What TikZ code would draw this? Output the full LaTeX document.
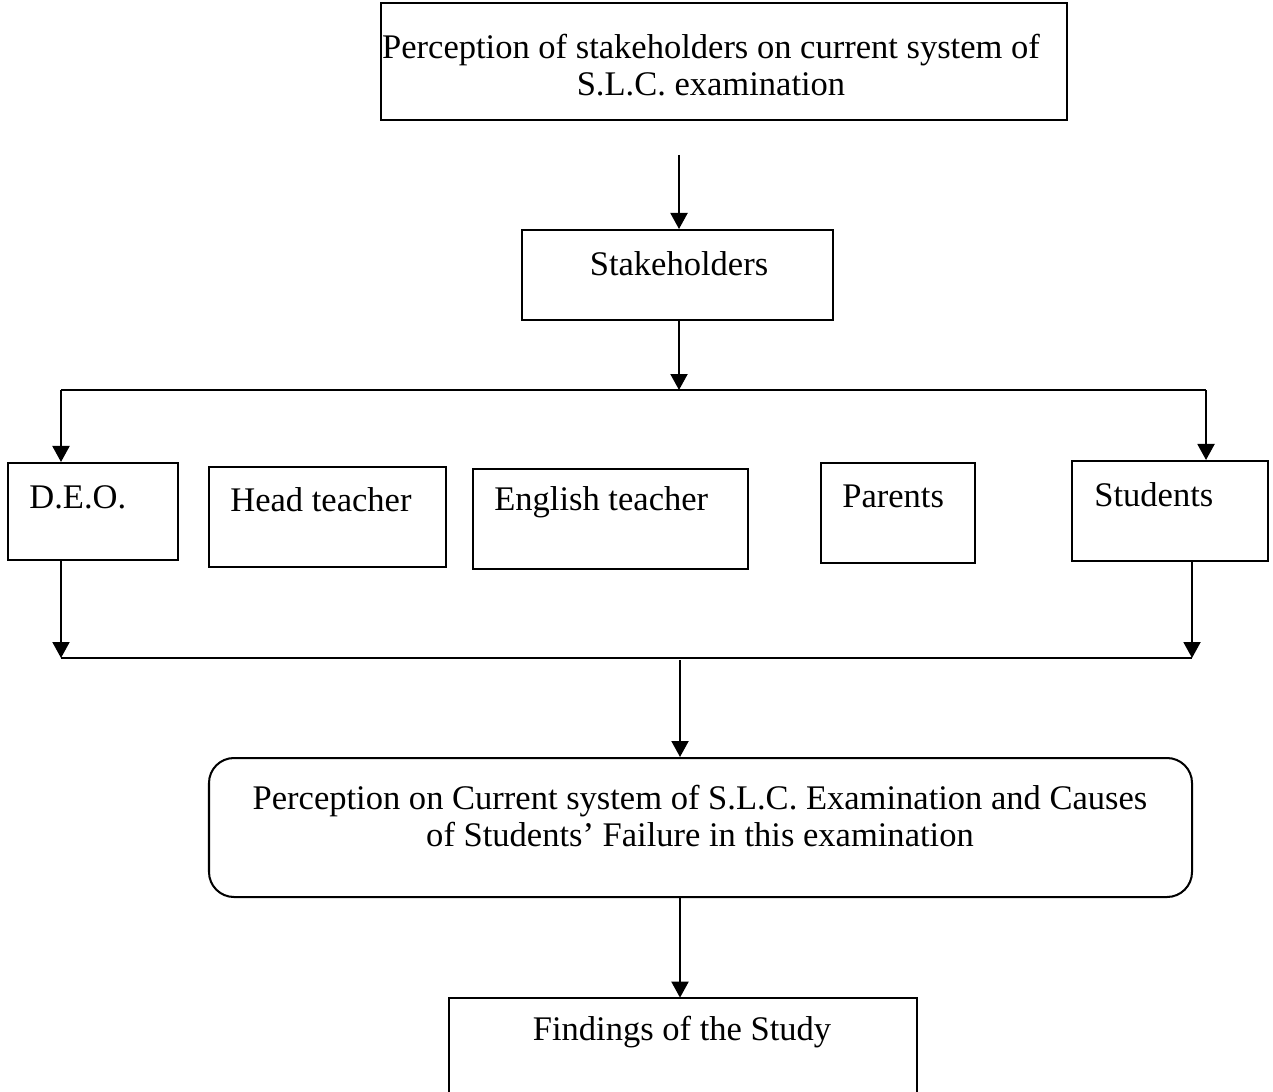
\documentclass[tikz,border=0pt]{standalone}
\usepackage{fontspec}
\setmainfont{Liberation Serif}
\usetikzlibrary{arrows.meta,fit}
\begin{document}
\begin{tikzpicture}[x=0.02cm,y=-0.02cm,
  box/.style={draw,line width=1.15pt,inner sep=0pt,rectangle},
  rbox/.style={draw,line width=1.15pt,inner sep=0pt,rectangle,rounded corners=0.5cm},
  txt/.style={inner sep=0pt,font=\fontsize{19.65}{21.3}\selectfont,align=center},
  conn/.style={line width=1.15pt},
  arr/.style={line width=1.15pt,-{Triangle[length=0.32cm,width=0.34cm]}}]
\useasboundingbox (0,0) rectangle (1273,1091);
% boxes
\node[box,fit={(381,3) (1067,120)}] (top) {};
\node[txt] (topt) at (711,65) {Perception of stakeholders on current system of\\S.L.C. examination};
\node[box,fit={(522,230) (833,320)}] (stk) {};
\node[txt] (stkt) at (679,264) {Stakeholders};
\node[box,fit={(8,463) (178,560)}] (deo) {};
\node[txt,anchor=west] (deot) at (29,497) {D.E.O.};
\node[box,fit={(209,467) (446,567)}] (head) {};
\node[txt,anchor=west] (headt) at (230,500) {Head teacher};
\node[box,fit={(473,469) (748,569)}] (eng) {};
\node[txt,anchor=west] (engt) at (494,502) {English teacher};
\node[box,fit={(821,463) (975,563)}] (par) {};
\node[txt,anchor=west] (part) at (842,496) {Parents};
\node[box,fit={(1072,461) (1268,561)}] (stu) {};
\node[txt,anchor=west] (stut) at (1094,495) {Students};
\node[rbox,fit={(209,758) (1192,897)}] (perc) {};
\node[txt] (perct) at (700,816) {Perception on Current system of S.L.C. Examination and Causes\\of Students’ Failure in this examination};
\node[inner sep=0pt,fit={(449,998) (917,1100)}] (find) {};
\draw[line width=1.15pt] (find.south west) -- (find.north west) -- (find.north east) -- (find.south east);
\node[txt] (findt) at (682,1032) {Findings of the Study};
% connectors
\coordinate (a0) at (679,155);
\draw[arr] (a0) -- (stk.north -| a0);
\coordinate (j1) at (679,390);
\draw[arr] (stk.south -| j1) -- (j1);
\coordinate (l1) at (61,390);
\coordinate (r1) at (1206,390);
\draw[conn] (l1) -- (r1);
\draw[arr] (l1) -- (deo.north -| l1);
\draw[arr] (r1) -- (stu.north -| r1);
\coordinate (l2) at (61,658);
\coordinate (r2) at (1192,658);
\draw[arr] (deo.south -| l2) -- (l2);
\draw[arr] (stu.south -| r2) -- (r2);
\draw[conn] (l2) -- (r2);
\coordinate (m2) at (680,660);
\draw[arr] (m2) -- (perc.north -| m2);
\draw[arr] (perc.south -| m2) -- (find.north -| m2);
\end{tikzpicture}
\end{document}
